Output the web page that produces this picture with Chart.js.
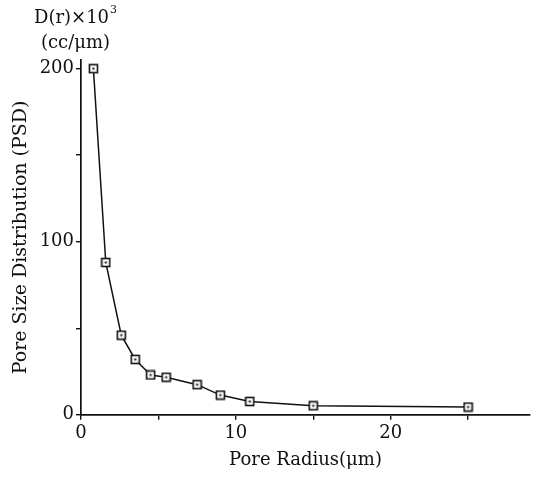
<!DOCTYPE html>
<html><head><meta charset="utf-8">
<script src="https://cdn.jsdelivr.net/npm/chart.js@4/dist/chart.umd.min.js"></script>
<style>html,body{margin:0;padding:0;background:#fff}#wrap{width:540px;height:477px}</style>
</head><body><div id="wrap"><canvas id="c" width="540" height="477"></canvas></div>
<script>
const poreRadius = [0.8, 1.6, 2.6, 3.5, 4.5, 5.5, 7.5, 9.0, 10.9, 15.0, 25.0];
const psd = [200, 88, 46, 32, 23, 21.7, 17.4, 11.4, 7.7, 5.2, 4.5];
const xTicks = [0, 10, 20];
const yTicks = [0, 100, 200];
const FONT = '"DejaVu Serif", "Liberation Serif", serif';

function markerImg(){
  const c = document.createElement('canvas'); c.width = 11; c.height = 11;
  const g = c.getContext('2d');
  g.fillStyle = '#fff'; g.fillRect(1,1,9,9);
  g.strokeStyle = '#111'; g.lineWidth = 1.6; g.strokeRect(1.5,1.5,8,8);
  g.fillStyle = '#111'; g.fillRect(4.5,4.5,2,2);
  return c;
}
const mk = markerImg();

const topLabel = {
  id:'topLabel',
  afterDraw(chart){
    const g = chart.ctx; g.save();
    g.fillStyle = '#111'; g.textBaseline = 'middle'; g.textAlign = 'left';
    g.font = '18px ' + FONT;
    const t1 = 'D(r)\u00d710';
    g.fillText(t1, 34, 18);
    const w = g.measureText(t1).width;
    g.font = '11px ' + FONT;
    g.fillText('3', 34 + w + 1, 10);
    g.font = '18px ' + FONT;
    g.fillText('(cc/\u03bcm)', 41, 43);
    g.restore();
  }
};

new Chart(document.getElementById('c'), {
  type: 'scatter',
  data: { datasets: [{
    data: poreRadius.map((x,i)=>({x, y: psd[i]})),
    showLine: true, borderColor: '#111', borderWidth: 1.5, tension: 0,
    pointStyle: mk, pointRadius: 5, pointHoverRadius: 5
  }]},
  options: {
    responsive: false, animation: false,
    layout: { padding: { left: 0, right: 10, top: 60, bottom: 2 } },
    plugins: { legend: {display:false}, tooltip: {enabled:false} },
    scales: {
      x: {
        type: 'linear', min: 0, max: 29,
        border: { color: '#111', width: 1.7 },
        grid: { display: true, drawOnChartArea: false, drawTicks: true, tickLength: 5, color: '#111', lineWidth: 1.4 },
        afterBuildTicks(s){ s.ticks = [0,5,10,15,20,25].map(v=>({value:v})); },
        ticks: { color: '#111', font: { family: FONT, size: 18 }, padding: 3, maxRotation: 0,
          callback: v => xTicks.includes(v) ? String(v) : '' },
        title: { display: true, text: 'Pore Radius(\u03bcm)', color: '#111', font: { family: FONT, size: 18 }, padding: { top: 2, bottom: 4 } }
      },
      y: {
        type: 'linear', min: 0, max: 205,
        border: { color: '#111', width: 1.7 },
        grid: { display: true, drawOnChartArea: false, drawTicks: true, tickLength: 5, color: '#111', lineWidth: 1.4 },
        afterBuildTicks(s){ s.ticks = [0,50,100,150,200].map(v=>({value:v})); },
        ticks: { color: '#111', font: { family: FONT, size: 18 }, padding: 2,
          callback: v => yTicks.includes(v) ? String(v) : '' },
        title: { display: true, text: 'Pore Size Distribution (PSD)', color: '#111', font: { family: FONT, size: 19 }, padding: { top: 10, bottom: 0 } },
        afterFit(s){ s.width = 81; }
      }
    }
  },
  plugins: [topLabel]
});
</script></body></html>
